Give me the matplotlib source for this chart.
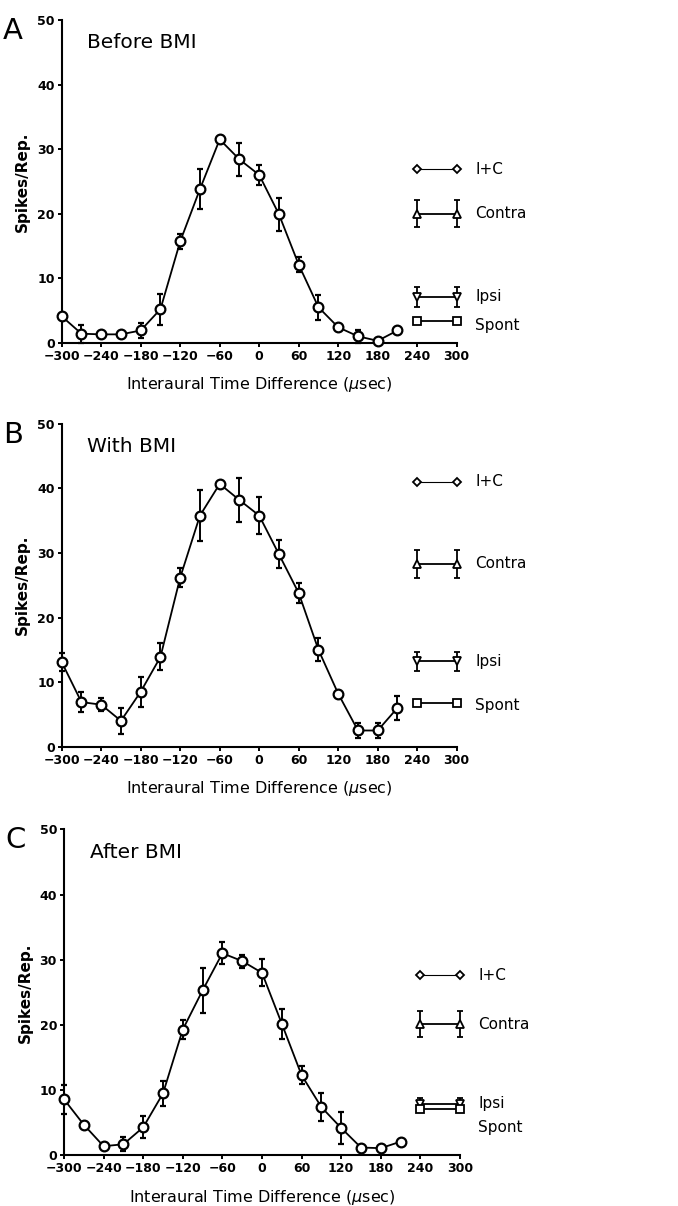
import numpy as np
import matplotlib
matplotlib.use("Agg")
import matplotlib.pyplot as plt

# ITD (usec) of the binaural points
itd = [-300, -270, -240, -210, -180, -150, -120, -90, -60, -30,
       0, 30, 60, 90, 120, 150, 180, 210]

# panel A: before BMI
a_mean = [4.1, 1.4, 1.3, 1.3, 1.9, 5.2, 15.7, 23.8, 31.5, 28.4,
          26.0, 19.9, 12.1, 5.5, 2.4, 1.0, 0.3, 1.9]
a_err = [0, 1.4, 0, 0, 1.2, 2.4, 1.2, 3.1, 0, 2.6,
         1.6, 2.6, 1.2, 1.9, 0, 1.0, 0, 0]
# panel B: with BMI
b_mean = [13.1, 6.9, 6.5, 4.0, 8.5, 13.9, 26.2, 35.8, 40.7, 38.2,
          35.8, 29.8, 23.8, 15.0, 8.2, 2.5, 2.5, 6.0]
b_err = [1.4, 1.5, 1.0, 2.0, 2.3, 2.1, 1.5, 4.0, 0, 3.4,
         2.9, 2.2, 1.6, 1.8, 0, 1.1, 1.1, 1.8]
# panel C: after BMI
c_mean = [8.6, 4.7, 1.4, 1.7, 4.3, 9.5, 19.3, 25.3, 31.0, 29.8,
          28.0, 20.2, 12.3, 7.4, 4.2, 1.2, 1.1, 2.1]
c_err = [2.2, 0, 0, 1.1, 1.7, 1.9, 1.5, 3.4, 1.7, 1.0,
         2.1, 2.3, 1.4, 2.1, 2.5, 0, 0, 0]

# monaural / spontaneous responses, drawn at ITD 240 and 300
mono_x = [240, 300]
a_mono = {"I+C": 26.9, "Contra": 20.0, "Ipsi": 7.1, "Spont": 3.3}
b_mono = {"I+C": 41.0, "Contra": 28.3, "Ipsi": 13.2, "Spont": 6.7}
c_mono = {"I+C": 27.6, "Contra": 20.1, "Ipsi": 7.8, "Spont": 7.1}
a_mono_err = {"Contra": 2.1, "Ipsi": 1.5}
b_mono_err = {"Contra": 2.2, "Ipsi": 1.5}
c_mono_err = {"Contra": 2.0, "Ipsi": 1.0}
# label heights (text next to the monaural markers)
a_lab = {"I+C": 26.9, "Contra": 20.0, "Ipsi": 7.1, "Spont": 2.6}
b_lab = {"I+C": 41.0, "Contra": 28.3, "Ipsi": 13.2, "Spont": 6.3}
c_lab = {"I+C": 27.6, "Contra": 20.1, "Ipsi": 8.0, "Spont": 4.2}

panels = [
    ("A", "Before BMI", a_mean, a_err, a_mono, a_mono_err, a_lab,
     [0.091, 0.7158, 0.5826, 0.2676]),
    ("B", "With BMI", b_mean, b_err, b_mono, b_mono_err, b_lab,
     [0.091, 0.3809, 0.5826, 0.2676]),
    ("C", "After BMI", c_mean, c_err, c_mono, c_mono_err, c_lab,
     [0.0944, 0.042, 0.584, 0.2703]),
]

mono_style = {"I+C": dict(marker="D", ms=4, lw=0.8),
              "Contra": dict(marker="^", ms=5.5, lw=1.3),
              "Ipsi": dict(marker="v", ms=5.5, lw=1.3),
              "Spont": dict(marker="s", ms=5.5, lw=1.3)}

fig = plt.figure(figsize=(6.78, 12.06), dpi=100)

for letter, title, mean, err, mono, mono_err, lab, rect in panels:
    ax = fig.add_axes(rect)
    ax.errorbar(itd, mean, yerr=err, color="black", lw=1.3, marker="o",
                ms=7, mfc="white", mec="black", mew=1.6,
                elinewidth=1.4, capsize=2, capthick=1.4, zorder=3,
                clip_on=False)
    for name, y in mono.items():
        st = mono_style[name]
        e = mono_err.get(name, 0)
        ax.errorbar(mono_x, [y, y], yerr=e if e else None, color="black",
                    lw=st["lw"], marker=st["marker"], ms=st["ms"],
                    mfc="white", mec="black", mew=1.3, elinewidth=1.3,
                    capsize=2, capthick=1.3, clip_on=False, zorder=3)
        ax.text(328, lab[name], name, fontsize=11, ha="left",
                va="center", clip_on=False)

    ax.set_xlim(-300, 300)
    ax.set_ylim(0, 50)
    ax.set_xticks(range(-300, 301, 60))
    ax.set_xticklabels([str(v).replace("-", "\u2212") for v in range(-300, 301, 60)])
    ax.set_yticks(range(0, 51, 10))
    for s in ("top", "right"):
        ax.spines[s].set_visible(False)
    for s in ("left", "bottom"):
        ax.spines[s].set_linewidth(1.5)
    ax.tick_params(direction="out", length=3, width=1.4, labelsize=9, pad=2)
    for t in ax.get_xticklabels() + ax.get_yticklabels():
        t.set_fontweight("bold")
    ax.set_ylabel("Spikes/Rep.", fontsize=11, fontweight="bold", labelpad=5)
    ax.set_xlabel("Interaural Time Difference ($\\mu$sec)", fontsize=11.5,
                  labelpad=9)
    ax.text(-0.148, 1.01, letter, transform=ax.transAxes, fontsize=21,
            ha="left", va="top")
    ax.text(0.065, 0.93, title, transform=ax.transAxes,
            fontsize=14.5, ha="left", va="center")

fig.savefig("out.png", dpi=100)
